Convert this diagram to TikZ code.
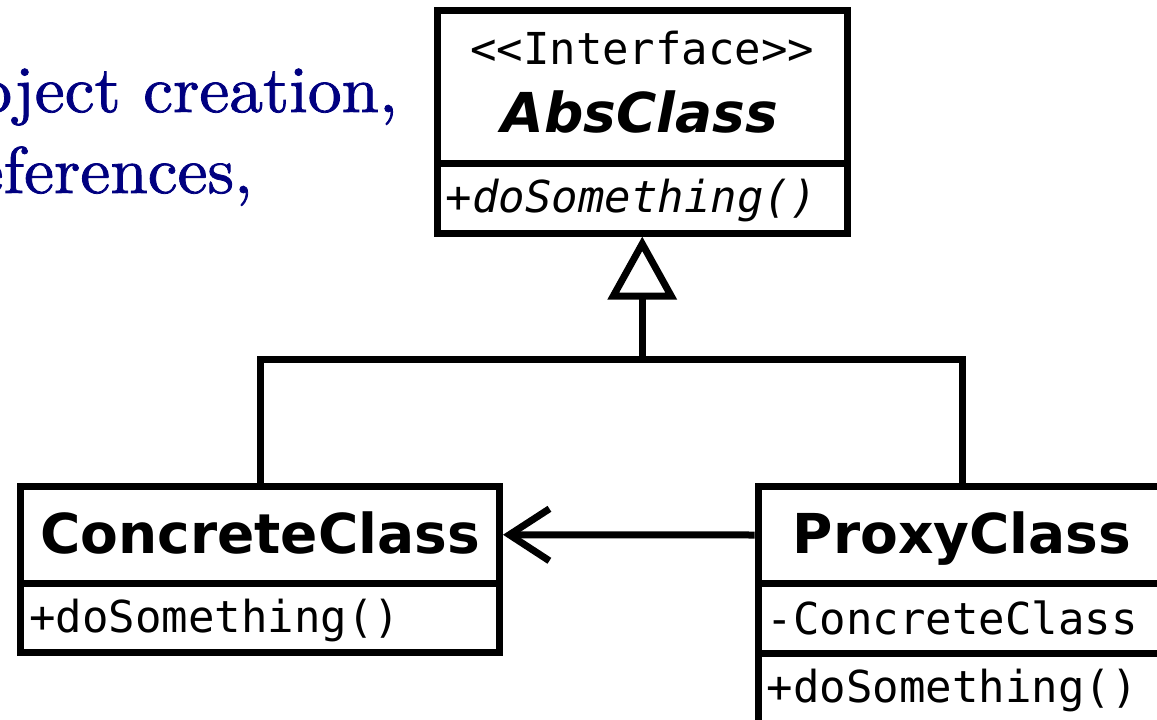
\documentclass[tikz,border=0pt]{standalone}
\usepackage{fontspec}
\newfontfamily\umlsans{DejaVu Sans}
\newfontfamily\umlmono{DejaVu Sans Mono}
\newfontfamily\slidefont{lmroman10-regular}[Extension=.otf, FakeBold=1.2, FakeStretch=1.02]
\usetikzlibrary{arrows.meta}
\definecolor{navytext}{RGB}{0,0,128}
\begin{document}
\begin{tikzpicture}[x=1pt, y=-1pt,
  box/.style={draw, rectangle, line width=7pt, inner sep=0pt},
  conn/.style={draw, line width=7pt},
  clsname/.style={inner sep=0pt, anchor=base, font=\umlsans\bfseries\fontsize{55}{60}\selectfont},
  member/.style={inner sep=0pt, anchor=base west, font=\umlmono\fontsize{44}{48}\selectfont},
  slide/.style={inner sep=0pt, anchor=base east, text=navytext, font=\slidefont\fontsize{66}{80}\selectfont}]
\useasboundingbox (0,0) rectangle (1157,720);
\clip (0,0) rectangle (1157,720);

% slide text running behind the diagram
\node[slide] (line1) at (398,112) {object creation,};
\node[slide] (line2) at (253,193) {references,};

% interface
\node[box, minimum width=410.5pt, minimum height=153pt] (abshead) at (642.25,87) {};
\node[box, minimum width=410.5pt, minimum height=69.5pt] (absops) at (642.25,198.25) {};
\node[inner sep=0pt, anchor=base, font=\umlmono\fontsize{44}{48}\selectfont] (stereo) at (642.25,64) {<<Interface>>};
\node[clsname, font=\umlsans\bfseries\itshape\fontsize{55}{60}\selectfont] (absname) at (640,132) {AbsClass};
\node[member, font=\umlmono\itshape\fontsize{44}{48}\selectfont] (absop) at (445.5,212) {+doSomething()};

% concrete class
\node[box, minimum width=479pt, minimum height=96.5pt] (conchead) at (260,534.75) {};
\node[box, minimum width=479pt, minimum height=69pt] (concops) at (260,617.5) {};
\node[clsname] (concname) at (260,553) {ConcreteClass};
\node[member] (concop) at (29,632) {+doSomething()};

% proxy class
\node[box, minimum width=408pt, minimum height=97pt] (proxyhead) at (962,535) {};
\node[box, minimum width=408pt, minimum height=70pt] (proxyattr) at (962,618.5) {};
\node[box, minimum width=408pt, minimum height=70pt] (proxyops) at (962,688.5) {};
\node[clsname] (proxyname) at (962,553) {ProxyClass};
\node[member] (proxyfield) at (766.5,634) {-ConcreteClass};
\node[member] (proxyop) at (766.5,702) {+doSomething()};

% generalization
\coordinate (bus) at (642.25,359);
\draw[conn] (conchead.north) |- (bus) -| (proxyhead.north);
\draw[conn, -{Triangle[open, length=63pt, width=68pt]}] (bus) -- (absops.south);

% association
\draw[conn, -{Straight Barb[length=40pt, width=52pt]}] (proxyhead.west) -- (conchead.east);
\end{tikzpicture}
\end{document}
